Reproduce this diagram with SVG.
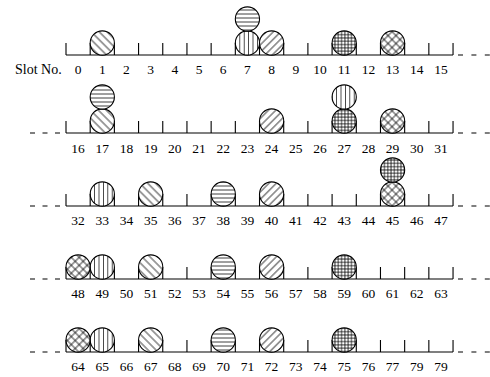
<svg xmlns="http://www.w3.org/2000/svg" xmlns:xlink="http://www.w3.org/1999/xlink" width="490" height="377" viewBox="0 0 490 377" font-family="'Liberation Serif', 'Times New Roman', serif">
<style>
.ax{fill:none;stroke:#000;stroke-width:1.1}
.dr{stroke:#000;stroke-width:1.1;stroke-dasharray:5 8.4}
.dL{stroke:#000;stroke-width:1.1;stroke-dasharray:5 7.5}
.b{stroke:#000;stroke-width:1.1}
.h{stroke:#000;stroke-width:0.75}
text{font-family:'Liberation Serif','Times New Roman',serif;font-size:13.5px;fill:#000;text-anchor:middle}
text.lab{text-anchor:start;font-size:14px}
</style>
<defs>
<pattern id="pA" width="5.6" height="5.6" patternUnits="userSpaceOnUse" patternTransform="rotate(45)"><rect width="5.6" height="5.6" fill="#fff"/><line class="h" x1="0" y1="2.8" x2="5.6" y2="2.8"/></pattern>
<pattern id="pF" width="5.2" height="5.2" patternUnits="userSpaceOnUse" patternTransform="rotate(-45)"><rect width="5.2" height="5.2" fill="#fff"/><line class="h" x1="0" y1="2.6" x2="5.2" y2="2.6"/></pattern>
<pattern id="pH" width="10" height="4" patternUnits="userSpaceOnUse"><rect width="10" height="4" fill="#fff"/><line class="h" x1="0" y1="2" x2="10" y2="2"/></pattern>
<pattern id="pV" width="4.4" height="10" patternUnits="userSpaceOnUse"><rect width="4.4" height="10" fill="#fff"/><line class="h" x1="2.2" y1="0" x2="2.2" y2="10"/></pattern>
<pattern id="pG" width="3.3" height="3.3" patternUnits="userSpaceOnUse"><rect width="3.3" height="3.3" fill="#fff"/><line class="h" x1="1.65" y1="0" x2="1.65" y2="3.3"/><line class="h" x1="0" y1="1.65" x2="3.3" y2="1.65"/></pattern>
<pattern id="pX" width="5.6" height="5.6" patternUnits="userSpaceOnUse" patternTransform="rotate(45)"><rect width="5.6" height="5.6" fill="#fff"/><line class="h" x1="2.8" y1="0" x2="2.8" y2="5.6"/><line class="h" x1="0" y1="2.8" x2="5.6" y2="2.8"/></pattern>
<path id="axis" class="ax" d="M66 0H453.04M66 -12V0M90.19 -12V0M114.38 -12V0M138.57 -12V0M162.76 -12V0M186.95 -12V0M211.14 -12V0M235.33 -12V0M259.52 -12V0M283.71 -12V0M307.9 -12V0M332.09 -12V0M356.28 -12V0M380.47 -12V0M404.66 -12V0M428.85 -12V0M453.04 -12V0"/>
</defs>
<rect width="490" height="377" fill="#fff"/>

<g id="connectors">
<use href="#axis" xlink:href="#axis" y="55"/>
<use href="#axis" xlink:href="#axis" y="133"/>
<use href="#axis" xlink:href="#axis" y="206"/>
<use href="#axis" xlink:href="#axis" y="279"/>
<use href="#axis" xlink:href="#axis" y="352"/>
<line class="dr" x1="458" y1="55" x2="490" y2="55"/>
<line class="dL" x1="30" y1="133" x2="60" y2="133"/><line class="dr" x1="458" y1="133" x2="490" y2="133"/>
<line class="dL" x1="30" y1="206" x2="60" y2="206"/><line class="dr" x1="458" y1="206" x2="490" y2="206"/>
<line class="dL" x1="30" y1="279" x2="60" y2="279"/><line class="dr" x1="458" y1="279" x2="490" y2="279"/>
<line class="dL" x1="30" y1="352" x2="60" y2="352"/><line class="dr" x1="458" y1="352" x2="490" y2="352"/>
</g>

<g id="row1">
<g id="s1"><circle class="b" cx="102.29" cy="43" r="12.1" fill="url(#pA)"/></g>
<g id="s7a"><circle class="b" cx="247.43" cy="43" r="12.1" fill="url(#pV)"/></g>
<g id="s7b"><circle class="b" cx="247.43" cy="19" r="12.1" fill="url(#pH)"/></g>
<g id="s8"><circle class="b" cx="271.62" cy="43" r="12.1" fill="url(#pF)"/></g>
<g id="s11"><circle class="b" cx="344.19" cy="43" r="12.1" fill="url(#pG)"/></g>
<g id="s13"><circle class="b" cx="392.57" cy="43" r="12.1" fill="url(#pX)"/></g>
<text class="lab" x="15" y="74">Slot No.</text>
<text x="78.1" y="74">0</text><text x="102.29" y="74">1</text><text x="126.48" y="74">2</text><text x="150.67" y="74">3</text><text x="174.86" y="74">4</text><text x="199.05" y="74">5</text><text x="223.24" y="74">6</text><text x="247.43" y="74">7</text><text x="271.62" y="74">8</text><text x="295.81" y="74">9</text><text x="320" y="74">10</text><text x="344.19" y="74">11</text><text x="368.38" y="74">12</text><text x="392.57" y="74">13</text><text x="416.76" y="74">14</text><text x="440.95" y="74">15</text>
</g>

<g id="row2">
<g id="s17a"><circle class="b" cx="102.29" cy="121" r="12.1" fill="url(#pA)"/></g>
<g id="s17b"><circle class="b" cx="102.29" cy="97" r="12.1" fill="url(#pH)"/></g>
<g id="s24"><circle class="b" cx="271.62" cy="121" r="12.1" fill="url(#pF)"/></g>
<g id="s27a"><circle class="b" cx="344.19" cy="121" r="12.1" fill="url(#pG)"/></g>
<g id="s27b"><circle class="b" cx="344.19" cy="97" r="12.1" fill="url(#pV)"/></g>
<g id="s29"><circle class="b" cx="392.57" cy="121" r="12.1" fill="url(#pX)"/></g>
<text x="78.1" y="152.5">16</text><text x="102.29" y="152.5">17</text><text x="126.48" y="152.5">18</text><text x="150.67" y="152.5">19</text><text x="174.86" y="152.5">20</text><text x="199.05" y="152.5">21</text><text x="223.24" y="152.5">22</text><text x="247.43" y="152.5">23</text><text x="271.62" y="152.5">24</text><text x="295.81" y="152.5">25</text><text x="320" y="152.5">26</text><text x="344.19" y="152.5">27</text><text x="368.38" y="152.5">28</text><text x="392.57" y="152.5">29</text><text x="416.76" y="152.5">30</text><text x="440.95" y="152.5">31</text>
</g>

<g id="row3">
<g id="s33"><circle class="b" cx="102.29" cy="194" r="12.1" fill="url(#pV)"/></g>
<g id="s35"><circle class="b" cx="150.67" cy="194" r="12.1" fill="url(#pA)"/></g>
<g id="s38"><circle class="b" cx="223.24" cy="194" r="12.1" fill="url(#pH)"/></g>
<g id="s40"><circle class="b" cx="271.62" cy="194" r="12.1" fill="url(#pF)"/></g>
<g id="s45a"><circle class="b" cx="392.57" cy="194" r="12.1" fill="url(#pX)"/></g>
<g id="s45b"><circle class="b" cx="392.57" cy="170" r="12.1" fill="url(#pG)"/></g>
<text x="78.1" y="225">32</text><text x="102.29" y="225">33</text><text x="126.48" y="225">34</text><text x="150.67" y="225">35</text><text x="174.86" y="225">36</text><text x="199.05" y="225">37</text><text x="223.24" y="225">38</text><text x="247.43" y="225">39</text><text x="271.62" y="225">40</text><text x="295.81" y="225">41</text><text x="320" y="225">42</text><text x="344.19" y="225">43</text><text x="368.38" y="225">44</text><text x="392.57" y="225">45</text><text x="416.76" y="225">46</text><text x="440.95" y="225">47</text>
</g>

<g id="row4">
<g id="s48"><circle class="b" cx="78.1" cy="267" r="12.1" fill="url(#pX)"/></g>
<g id="s49"><circle class="b" cx="102.29" cy="267" r="12.1" fill="url(#pV)"/></g>
<g id="s51"><circle class="b" cx="150.67" cy="267" r="12.1" fill="url(#pA)"/></g>
<g id="s54"><circle class="b" cx="223.24" cy="267" r="12.1" fill="url(#pH)"/></g>
<g id="s56"><circle class="b" cx="271.62" cy="267" r="12.1" fill="url(#pF)"/></g>
<g id="s59"><circle class="b" cx="344.19" cy="267" r="12.1" fill="url(#pG)"/></g>
<text x="78.1" y="298">48</text><text x="102.29" y="298">49</text><text x="126.48" y="298">50</text><text x="150.67" y="298">51</text><text x="174.86" y="298">52</text><text x="199.05" y="298">53</text><text x="223.24" y="298">54</text><text x="247.43" y="298">55</text><text x="271.62" y="298">56</text><text x="295.81" y="298">57</text><text x="320" y="298">58</text><text x="344.19" y="298">59</text><text x="368.38" y="298">60</text><text x="392.57" y="298">61</text><text x="416.76" y="298">62</text><text x="440.95" y="298">63</text>
</g>

<g id="row5">
<g id="s64"><circle class="b" cx="78.1" cy="340" r="12.1" fill="url(#pX)"/></g>
<g id="s65"><circle class="b" cx="102.29" cy="340" r="12.1" fill="url(#pV)"/></g>
<g id="s67"><circle class="b" cx="150.67" cy="340" r="12.1" fill="url(#pA)"/></g>
<g id="s70"><circle class="b" cx="223.24" cy="340" r="12.1" fill="url(#pH)"/></g>
<g id="s72"><circle class="b" cx="271.62" cy="340" r="12.1" fill="url(#pF)"/></g>
<g id="s75"><circle class="b" cx="344.19" cy="340" r="12.1" fill="url(#pG)"/></g>
<text x="78.1" y="371">64</text><text x="102.29" y="371">65</text><text x="126.48" y="371">66</text><text x="150.67" y="371">67</text><text x="174.86" y="371">68</text><text x="199.05" y="371">69</text><text x="223.24" y="371">70</text><text x="247.43" y="371">71</text><text x="271.62" y="371">72</text><text x="295.81" y="371">73</text><text x="320" y="371">74</text><text x="344.19" y="371">75</text><text x="368.38" y="371">76</text><text x="392.57" y="371">77</text><text x="416.76" y="371">79</text><text x="440.95" y="371">79</text>
</g>
</svg>
